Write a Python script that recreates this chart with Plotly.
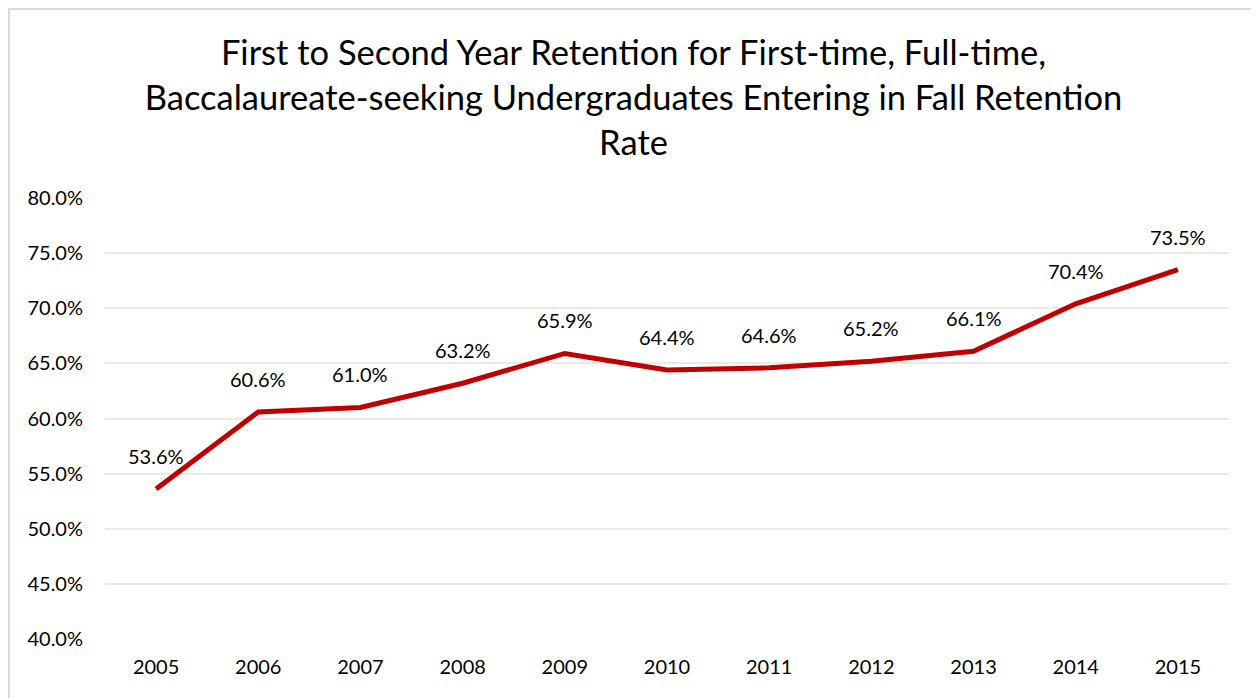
import plotly.graph_objects as go

years = [2005, 2006, 2007, 2008, 2009, 2010, 2011, 2012, 2013, 2014, 2015]
retention = [53.6, 60.6, 61.0, 63.2, 65.9, 64.4, 64.6, 65.2, 66.1, 70.4, 73.5]
y_ticks = [40, 45, 50, 55, 60, 65, 70, 75, 80]
title_lines = [
    "First to Second Year Retention for First-time, Full-time,",
    "Baccalaureate-seeking Undergraduates Entering in Fall Retention",
    "Rate",
]

FONT = "Lato, Calibri, sans-serif"

fig = go.Figure()
fig.add_trace(go.Scatter(
    x=years, y=retention, mode="lines",
    line=dict(color="#C00000", width=5),
    hoverinfo="x+y",
))

# data labels above each point
annotations = [
    dict(x=yr, y=v, text=f"{v:.1f}%", showarrow=False, yshift=33,
         font=dict(family=FONT, size=20, color="#000000"))
    for yr, v in zip(years, retention)
]

# page body has an 8px margin, so the figure is 8px smaller than the window
fig.update_layout(
    width=1251, height=690,
    margin=dict(l=97, r=30, t=190, b=59, autoexpand=False),
    paper_bgcolor="white", plot_bgcolor="white",
    showlegend=False,
    title=dict(
        text="<br>".join(title_lines),
        x=0.5, xanchor="center", xref="container",
        y=1 - 57 / 690, yanchor="middle", yref="container",
        font=dict(family=FONT, size=34.5, color="#000000"),
    ),
    annotations=annotations,
    xaxis=dict(
        range=[years[0] - 0.5, years[-1] + 0.5], tickvals=years,
        showgrid=False, zeroline=False, showline=False,
        ticks="", ticklabelstandoff=14,
        tickfont=dict(family=FONT, size=20, color="#000000"),
    ),
    yaxis=dict(
        range=[40, 80], tickvals=y_ticks,
        ticktext=[f"{t:.1f}%" for t in y_ticks],
        showgrid=True, gridcolor="#ECE9E1", gridwidth=2,
        zeroline=False, showline=False, ticks="",
        tickfont=dict(family=FONT, size=20, color="#000000"),
        ticklabelstandoff=21,
    ),
    shapes=[dict(
        type="rect", xref="paper", yref="paper",
        x0=-96 / 1124, x1=1150 / 1124, y0=-70 / 441, y1=630 / 441,
        line=dict(color="#D9D9D9", width=2), layer="below",
    )],
)

fig.write_html("out.html")
